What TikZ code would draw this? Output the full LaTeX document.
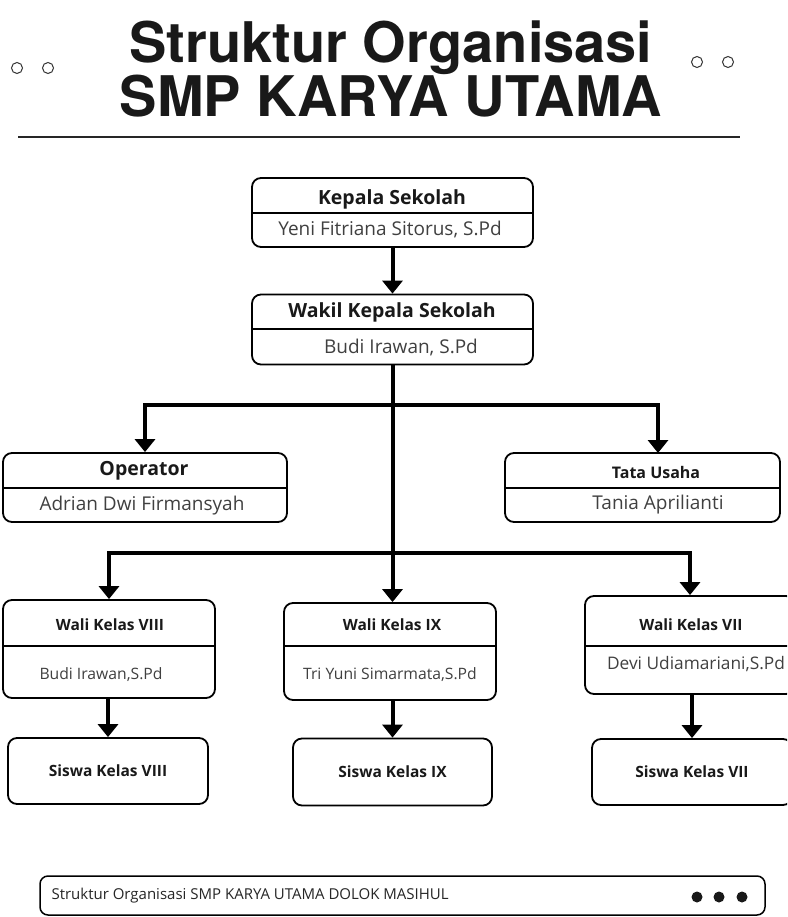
\documentclass[tikz,border=0pt]{standalone}
\usepackage{fontspec}
\setmainfont{Open Sans}
\newfontfamily\titlefont{TeX Gyre Heros}
\usetikzlibrary{arrows.meta}
\begin{document}
\begin{tikzpicture}[x=1pt,y=-1pt,
  box/.style={draw=black, line width=1.8pt, rounded corners=9pt, inner sep=0pt, fill=white},
  div/.style={line width=1.8pt},
  arr/.style={line width=4pt, -{Triangle[length=13pt,width=20pt]}},
  ttl/.style={font=\bfseries\fontsize{19.5}{22}\selectfont, text=black!90},
  ttls/.style={font=\bfseries\fontsize{15.5}{18}\selectfont, text=black!90},
  nm/.style={font=\fontsize{19}{22}\selectfont, text=black!75},
  nms/.style={font=\fontsize{15.7}{18}\selectfont, text=black!75},
  deco/.style={draw=black!80, line width=1pt},
]
\useasboundingbox (0,0) rectangle (787,917);
\clip (0,0) rectangle (787,917);
\fill[white] (0,0) rectangle (787,917);

% title
\node[font=\titlefont\bfseries\fontsize{56}{50}\selectfont, align=center, text=black!90] (title) at (391,69) {Struktur Organisasi\\SMP KARYA UTAMA};
\draw[deco] (17,68) circle (5.5pt);
\draw[deco] (48,68) circle (5.5pt);
\draw[deco] (697,62) circle (5.5pt);
\draw[deco] (728,62) circle (5.5pt);
\draw[line width=2.5pt, black!85] (18,137) -- (740,137);

% Kepala Sekolah
\node[box, minimum width=281pt, minimum height=69pt] (ks) at (392.5,212.5) {};
\draw[div] (ks.west |- 0,213) -- (ks.east |- 0,213);
\node[ttl] (kst) at (392,199) {Kepala Sekolah};
\node[nm] (ksn) at (390,230) {Yeni Fitriana Sitorus, S.Pd};

% Wakil
\node[box, minimum width=281pt, minimum height=70pt] (wk) at (392.5,329.5) {};
\draw[div] (wk.west |- 0,329) -- (wk.east |- 0,329);
\node[ttl] (wkt) at (392,312) {Wakil Kepala Sekolah};
\node[nm] (wkn) at (401,348) {Budi Irawan, S.Pd};

% Operator
\node[box, minimum width=284pt, minimum height=69pt] (op) at (145,487.5) {};
\draw[line width=2.8pt] (op.west |- 0,488) -- (op.east |- 0,488);
\node[ttl] (opt) at (144,471) {Operator};
\node[nm] (opn) at (142,506) {Adrian Dwi Firmansyah};

% Tata Usaha
\node[box, minimum width=275pt, minimum height=69pt] (tu) at (642.5,487.5) {};
\draw[line width=2.8pt] (tu.west |- 0,488) -- (tu.east |- 0,488);
\node[ttls, font=\bfseries\fontsize{16}{18}\selectfont] (tut) at (656,472) {Tata Usaha};
\node[nm] (tun) at (658,505) {Tania Aprilianti};
\coordinate (tuin) at (658,453);

% Wali Kelas
\node[box, minimum width=212pt, minimum height=98pt] (w8) at (109,649) {};
\draw[div] (w8.west |- 0,646) -- (w8.east |- 0,646);
\node[ttls] (w8t) at (110,625) {Wali Kelas VIII};
\node[nms] (w8n) at (101,675) {Budi Irawan,S.Pd};

\node[box, minimum width=212pt, minimum height=97pt] (w9) at (390,651.5) {};
\draw[div] (w9.west |- 0,646) -- (w9.east |- 0,646);
\node[ttls] (w9t) at (392,625) {Wali Kelas IX};
\node[nms] (w9n) at (390,675) {Tri Yuni Simarmata,S.Pd};

\node[box, minimum width=210pt, minimum height=98pt] (w7) at (690,645) {};
\draw[div] (w7.west |- 0,646) -- (w7.east |- 0,646);
\node[ttls] (w7t) at (691,625) {Wali Kelas VII};
\node[nms, font=\fontsize{17.3}{19}\selectfont] (w7n) at (696,664) {Devi Udiamariani,S.Pd};

% Siswa
\node[box, minimum width=200pt, minimum height=66pt, ttls] (s8) at (108,771) {Siswa Kelas VIII};
\node[box, minimum width=199pt, minimum height=67pt, ttls] (s9) at (392.5,772) {Siswa Kelas IX};
\node[box, minimum width=200pt, minimum height=66pt, ttls] (s7) at (692,772) {Siswa Kelas VII};

% connectors
\coordinate (j1) at (392,405);
\coordinate (j2) at (392,553);
\draw[arr] (ks.south) -- (wk.north);
\draw[arr] (wk.south) -- (wk.south |- w9.north);
\draw[arr] (j1) -| (op.north);
\draw[arr] (j1) -| (tuin);
\draw[arr] (j2) -| (w8.north);
\draw[arr] (j2) -| (w7.north);
\draw[arr] (w8.south -| s8.north) -- (s8.north);
\draw[arr] (w9.south -| s9.north) -- (s9.north);
\draw[arr] (w7.south -| s7.north) -- (s7.north);

% footer
\node[box, line width=1.5pt, rounded corners=8pt, minimum width=725pt, minimum height=39pt] (ft) at (402.5,895.5) {};
\node[anchor=west, font=\fontsize{15}{17}\selectfont, text=black!85] (ftt) at (48,896) {Struktur Organisasi SMP KARYA UTAMA DOLOK MASIHUL};
\fill[black!90] (697,897) circle (5.5pt) (719,897) circle (5.5pt) (742,897) circle (5.5pt);
\end{tikzpicture}
\end{document}
